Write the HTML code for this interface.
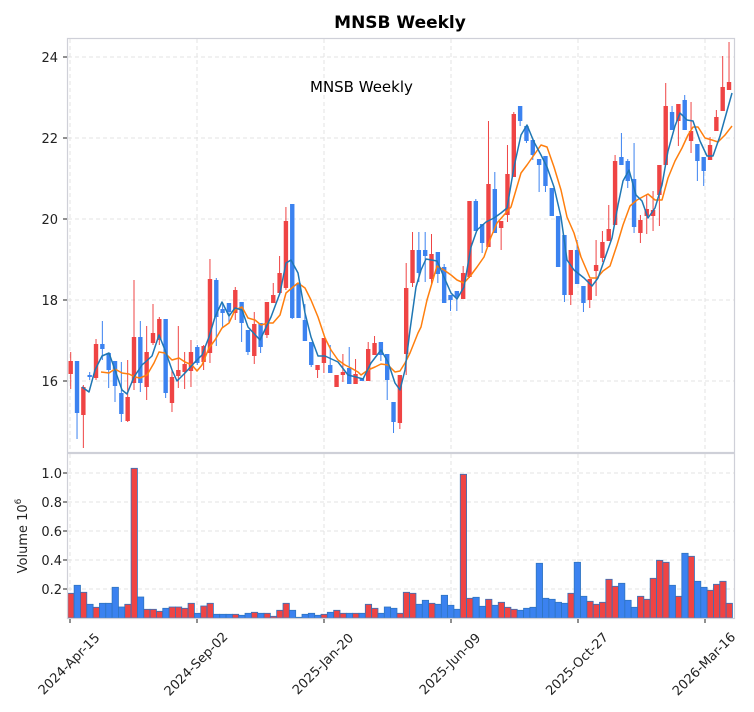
<!DOCTYPE html>
<html><head><meta charset="utf-8"><style>
html,body{margin:0;padding:0;background:#fff;}
svg{display:block;font-family:"DejaVu Sans","Liberation Sans",sans-serif;}
</style></head><body>
<svg id="s" width="754" height="712" viewBox="0 0 754 712" xmlns="http://www.w3.org/2000/svg">
<rect width="754" height="712" fill="#fff"/>
<text x="400" y="28" text-anchor="middle" font-size="17" font-weight="bold" fill="#000">MNSB  Weekly</text>
<g id="grid" stroke="#e3e3e3" stroke-width="1" stroke-dasharray="4,3"></g>
<g id="vol"></g>
<g id="cdl"></g>
<g id="ma"></g>
<rect x="67.5" y="38.5" width="667" height="414" fill="none" stroke="#cfd0d8" stroke-width="1.2"/>
<rect x="67.5" y="453.5" width="667" height="165" fill="none" stroke="#cfd0d8" stroke-width="1.2"/>
<text x="310" y="92" font-size="15" fill="#000">MNSB  Weekly</text>
<g id="ax" font-size="13" fill="#222"></g>
<text transform="translate(27,536) rotate(-90)" text-anchor="middle" font-size="13" fill="#222">Volume  10<tspan dy="-6" font-size="9">6</tspan></text>
</svg>
<script>
var NS="http://www.w3.org/2000/svg";
function el(p,t,a,txt){var e=document.createElementNS(NS,t);for(var k in a)e.setAttribute(k,a[k]);if(txt!=null)e.textContent=txt;document.getElementById(p).appendChild(e);return e;}
var R="#ef4444",B="#3b82f0";
[381,300,219,138,57].forEach(function(y){el("grid","line",{x1:68,x2:734,y1:y,y2:y});});
[589,560,531,502,473].forEach(function(y){el("grid","line",{x1:68,x2:734,y1:y,y2:y});});
var xt=[70,197,324,451,578,705];
xt.forEach(function(x){el("grid","line",{x1:x,x2:x,y1:39,y2:452});el("grid","line",{x1:x,x2:x,y1:454,y2:618});});
[[381,"16"],[300,"18"],[219,"20"],[138,"22"],[57,"24"]].forEach(function(a){el("ax","text",{x:58,y:a[0]+5,"text-anchor":"end"},a[1]);el("ax","line",{x1:63,x2:67,y1:a[0],y2:a[0],stroke:"#222"});});
[[589,"0.2"],[560,"0.4"],[531,"0.6"],[502,"0.8"],[473,"1.0"]].forEach(function(a){el("ax","text",{x:62,y:a[0]+5,"text-anchor":"end"},a[1]);el("ax","line",{x1:63,x2:67,y1:a[0],y2:a[0],stroke:"#222"});});
var dl=["2024-Apr-15","2024-Sep-02","2025-Jan-20","2025-Jun-09","2025-Oct-27","2026-Mar-16"];
xt.forEach(function(x,i){el("ax","line",{x1:x,x2:x,y1:619,y2:623,stroke:"#222"});
 el("ax","text",{transform:"translate("+(x+2)+",667) rotate(-45)","text-anchor":"middle"},dl[i]);});
var v="r400 b376 r397 b433 r442 b430 b430 b382 b441 r433 r25 b411 r448 r448 r454 b445 r441 r441 r445 r430 b460 r438 r430 b463 b463 b463 r463 b466 b460 r457 b460 r460 r469 r451 r430 b451 b472 b463 b460 b466 r463 b457 r451 r460 b460 r460 b460 r433 r445 b460 b441 b445 r460 r397 r400 b433 b421 r430 b433 b406 b436 b448 r43 r415 b412 b439 r418 b436 r427 r442 r448 b451 b445 b442 b310 b415 b418 b427 b430 r400 b307 b409 r424 r433 r427 r358 r379 b370 b421 b442 r409 r418 r355 r301 r307 b376 r409 b280 r289 b364 b382 r391 r373 r364 r430".split(" ");
v.forEach(function(s,i){var c=s[0]=="r"?R:B,top=460+parseInt(s.slice(1))/3;var x=67.8+6.33*i;
 el("vol","rect",{x:x.toFixed(2),y:top.toFixed(1),width:6.33,height:(618-top).toFixed(1),fill:c,stroke:"#2f74c0","stroke-width":0.8});});
var C=[[70,361,374,352,389,R],[77,361,413,361,439,B],[83,387,415,385,448,R],[89,375,377,372,380,B],[96,344,378,339,380,R],[102,344,349,321,360,B],[109,353,370,353,388,B],[115,361,386,361,402,B],[121,393,414,362,422,B],[128,397,421,360,422,R],[134,337,383,280,390,R],[140,337,383,321,392,B],[147,352,387,326,400,R],[153,333,343,304,345,R],[159,319,340,317,345,R],[166,319,393,319,398,B],[172,377,403,370,412,R],[178,370,376,326,388,R],[185,364,372,352,389,R],[191,352,371,340,387,R],[197,347,363,345,365,B],[203,346,362,345,370,R],[209,279,353,259,363,R],[216,280,317,278,346,B],[222,309,313,303,328,B],[228,303,312,303,322,B],[234,290,313,287,320,R],[241,302,323,302,342,B],[248,330,352,330,355,B],[255,324,356,312,364,R],[261,323,347,323,353,B],[267,302,335,302,338,R],[274,295,303,283,303,R],[280,273,293,256,295,R],[286,221,288,207,290,R],[293,204,318,204,319,B],[299,283,318,283,318,B],[305,320,341,304,341,B],[312,342,365,342,367,B],[318,365,370,365,378,R],[324,338,363,338,373,R],[330,365,373,345,373,B],[337,375,387,375,387,R],[343,372,375,354,382,R],[350,368,384,347,384,B],[356,374,384,359,384,R],[362,378,381,378,381,B],[369,349,381,342,381,R],[375,343,355,336,355,R],[381,342,355,342,361,B],[388,354,380,354,400,B],[394,402,422,402,433,B],[401,375,423,375,429,R],[407,288,354,263,375,R],[413,250,283,232,287,R],[420,250,273,232,282,B],[426,250,256,232,282,B],[433,254,279,234,285,R],[439,252,274,252,283,B],[445,267,303,264,303,B],[452,295,300,295,311,B],[458,291,297,291,311,B],[464,273,299,266,299,R],[470,201,277,201,278,R],[476,201,231,199,231,B],[483,224,243,224,253,B],[489,184,247,121,247,R],[495,189,233,172,233,B],[502,221,228,221,250,R],[508,174,215,145,222,R],[514,114,177,112,177,R],[520,106,121,106,126,B],[527,126,141,126,143,B],[533,140,155,140,160,B],[539,159,165,159,192,B],[545,156,186,156,192,B],[551,188,216,188,216,B],[558,216,267,216,267,B],[564,235,295,235,302,B],[570,250,295,250,305,R],[577,250,284,240,284,B],[583,286,303,286,312,B],[590,279,300,279,308,R],[598,265,271,240,296,R],[604,242,258,231,262,R],[611,229,241,205,241,R],[617,161,225,155,225,R],[623,157,165,133,165,B],[630,161,181,159,188,B],[636,179,227,143,233,B],[642,220,233,215,243,R],[649,209,216,195,234,R],[655,210,216,191,231,R],[661,165,195,165,226,R],[668,106,165,83,165,R],[674,112,130,106,130,B],[680,104,121,104,146,R],[686,100,130,95,130,B],[692,131,141,102,153,R],[698,144,161,144,181,B],[704,157,171,157,186,B],[710,145,160,137,160,R],[717,117,131,110,131,R],[723,87,111,56,111,R],[729,82,90,42,90,R]];
C.forEach(function(c){var i=Math.round((c[0]-70.7)/6.33),x=70.7+6.33*i;
 el("cdl","line",{x1:x,x2:x,y1:c[3],y2:c[4],stroke:c[5],"stroke-width":1});
 el("cdl","rect",{x:x-2.2,y:c[1],width:4.4,height:Math.max(1.5,c[2]-c[1]),fill:c[5]});});
var mb="82,387 89,392 95,370 102,356 109,353 115,370 122,390 127,394 134,377 142,365 152,356 159,335 165,350 172,370 177,381 185,373 195,362 202,355 209,337 215,317 222,302 229,316 235,308 242,310 248,327 260,340 271,317 280,293 286,263 291,260 298,273 305,313 311,337 318,356 325,356 338,362 348,375 356,377 363,379 371,363 381,350 388,362 395,383 400,390 405,370 410,330 416,287 421,270 426,259 437,261 444,277 451,293 457,299 464,287 471,247 477,230 486,222 494,218 501,213 507,208 514,167 521,135 527,125 534,142 541,155 547,167 554,187 561,217 567,260 574,270 584,278 592,286 598,278 605,258 612,238 618,205 623,181 629,170 636,195 642,201 648,218 655,208 662,185 668,151 675,126 680,113 687,120 693,121 700,141 707,156 713,156 720,136 727,111 732,93";
var mo="101,372 109,373 115,369 122,373 129,374 135,377 140,378 147,375 154,363 159,352 165,353 172,360 179,358 185,362 192,365 197,371 202,365 209,348 215,340 222,328 229,323 235,310 242,307 248,318 255,320 261,325 268,323 273,323 280,315 286,293 293,287 298,283 305,288 311,300 318,317 325,338 331,350 338,360 345,365 351,368 358,372 361,375 368,370 375,367 381,364 388,365 395,372 400,371 405,363 410,353 418,333 421,327 427,300 437,266 444,270 451,275 457,280 464,283 471,275 477,267 484,257 491,237 497,223 504,215 511,207 521,173 527,165 534,155 541,145 547,147 554,167 561,190 567,217 574,233 581,257 590,278 597,278 603,271 610,266 617,245 623,225 630,206 637,200 648,194 655,200 662,200 668,178 675,161 682,148 688,135 693,127 698,127 705,138 712,140 718,142 725,135 732,126";
el("ma","polyline",{points:mo,fill:"none",stroke:"#ff7f0e","stroke-width":1.5,"stroke-linejoin":"round"});
el("ma","polyline",{points:mb,fill:"none",stroke:"#1f77b4","stroke-width":1.5,"stroke-linejoin":"round"});
</script>
</body></html>
